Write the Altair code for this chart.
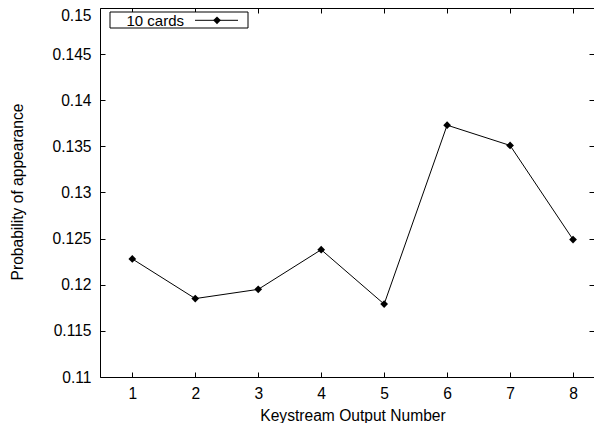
import altair as alt
import pandas as pd

# ---- data ----
keys = [1, 2, 3, 4, 5, 6, 7, 8]
probs = [0.1228, 0.1185, 0.1195, 0.1238, 0.1179, 0.1373, 0.1351, 0.1249]
series_name = "10 cards"
x_ticks = [1, 2, 3, 4, 5, 6, 7, 8]
y_ticks = [0.11, 0.115, 0.12, 0.125, 0.13, 0.135, 0.14, 0.145, 0.15]
x_title = "Keystream Output Number"
y_title = "Probability of appearance"

df = pd.DataFrame({"key": keys, "prob": probs})
legend_df = pd.DataFrame({"name": [series_name]})

W, H = 494, 369
FONT = "Liberation Sans"
FS = 15.6

xscale = alt.Scale(domain=[0.487, 8.333], nice=False, zero=False)
yscale = alt.Scale(domain=[0.11, 0.15], nice=False, zero=False)

# main axes: labels, titles, left/bottom border
x_main = alt.X("key:Q", scale=xscale, axis=alt.Axis(
    orient="bottom", values=x_ticks, title=x_title, ticks=False, tickSize=0,
    labelPadding=21, labelBaseline="alphabetic", domain=True,
    titleX=252.5, titleY=43.5, titleAlign="center", titleBaseline="alphabetic"))
y_main = alt.Y("prob:Q", scale=yscale, axis=alt.Axis(
    orient="left", values=y_ticks, format="~g", title=y_title, ticks=False, tickSize=0,
    labelPadding=9, domain=True, titleAngle=270,
    labelBaseline={"condition": {"test": "datum.value >= 0.1499", "value": "top"},
                   "value": "middle"},
    titleX=-78, titleY=183.5, titleAlign="center", titleBaseline="alphabetic"))

# inward ticks along the bottom and the left
x_in_bottom = alt.X("key:Q", scale=xscale, axis=alt.Axis(
    orient="top", offset=-H, values=x_ticks, labels=False, domain=False,
    ticks=True, tickSize=5, title=None))
y_in_left = alt.Y("prob:Q", scale=yscale, axis=alt.Axis(
    orient="right", offset=-W, values=y_ticks, labels=False, domain=False,
    ticks=True, tickSize=5, title=None))

# inward ticks along the top (with top border) and the right
x_in_top = alt.X("key:Q", scale=xscale, axis=alt.Axis(
    orient="bottom", offset=-H, values=x_ticks, labels=False, domain=True,
    ticks=True, tickSize=5, title=None))
y_in_right = alt.Y("prob:Q", scale=yscale, axis=alt.Axis(
    orient="left", offset=-W, values=y_ticks, labels=False, domain=False,
    ticks=True, tickSize=5, title=None))

base = alt.Chart(df)

line = base.mark_line(color="black", strokeWidth=1).encode(x=x_main, y=y_main)
pts = base.mark_point(shape="diamond", filled=True, size=60, color="black",
                      opacity=1).encode(x=x_in_bottom, y=y_in_left)
ghost = base.mark_point(opacity=0).encode(x=x_in_top, y=y_in_right)

lbase = alt.Chart(legend_df)
lbox = lbase.mark_rect(fill="white", stroke="black", strokeWidth=1).encode(
    x=alt.value(10), x2=alt.value(148), y=alt.value(4), y2=alt.value(20))
ltext = lbase.mark_text(align="left", baseline="middle", font=FONT, fontSize=15,
                        color="black").encode(
    text="name:N", x=alt.value(26.5), y=alt.value(12.5))
lrule = lbase.mark_rule(color="black", strokeWidth=1).encode(
    x=alt.value(95), x2=alt.value(138), y=alt.value(12.3))
lpt = lbase.mark_point(shape="diamond", filled=True, size=60, color="black",
                       opacity=1).encode(x=alt.value(117), y=alt.value(12.3))

chart = alt.layer(line, pts, ghost, lbox, ltext, lrule, lpt).resolve_axis(
    x="independent", y="independent"
).properties(
    width=W, height=H,
    autosize=alt.AutoSizeParams(type="none"),
    padding={"left": 92, "top": 0, "right": 0, "bottom": 46},
    background="white",
).configure_view(stroke=None).configure_axis(
    grid=False, labelFont=FONT, titleFont=FONT, labelFontSize=FS, titleFontSize=FS,
    labelColor="black", titleColor="black", domainColor="black", tickColor="black",
    labelFlush=False, labelOverlap=False, titleFontWeight="normal",
    domainWidth=1, tickWidth=1,
)

chart.save("out.html", embed_options={"renderer": "svg", "actions": False})
